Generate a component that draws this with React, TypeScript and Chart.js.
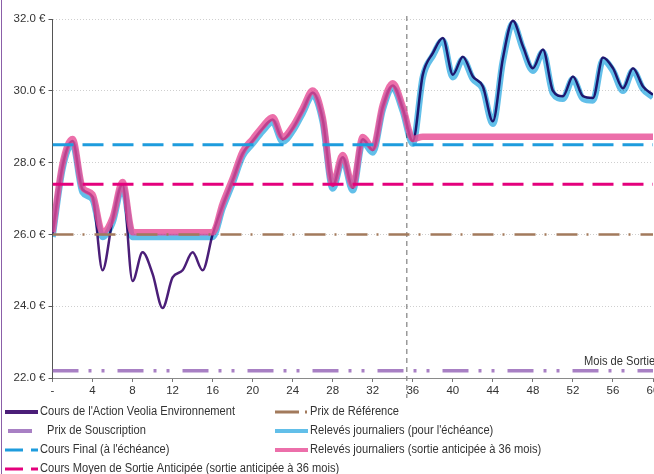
import { useEffect, useRef } from "react";
import { Chart, registerables } from "chart.js";

Chart.register(...registerables);

const months = [
  0, 1, 2, 3, 4, 5, 6, 7, 8, 9, 10, 11, 12, 13, 14, 15, 16, 17, 18, 19, 20,
  21, 22, 23, 24, 25, 26, 27, 28, 29, 30, 31, 32, 33, 34, 35, 36, 37, 38, 39, 40,
  41, 42, 43, 44, 45, 46, 47, 48, 49, 50, 51, 52, 53, 54, 55, 56, 57, 58, 59, 60,
];

const coursAction = [
  26.0, 27.9, 28.6, 27.25, 27.05, 25.0, 26.4, 27.4, 24.7, 25.5, 24.9,
  23.95, 24.8, 25.0, 25.5, 25.0, 26.0, 26.8, 27.5, 28.25, 28.6,
  28.95, 29.2, 28.65, 28.95, 29.45, 29.95, 29.2, 27.35, 28.15, 27.3,
  28.65, 28.35, 29.55, 30.15, 29.5, 28.6, 30.45, 31.05, 31.47, 30.45,
  30.95, 30.4, 30.12, 29.15, 30.9, 31.95, 31.24, 30.63, 31.15, 30.0,
  29.85, 30.4, 29.85, 29.8, 30.93, 30.63, 30.07, 30.63, 30.12, 29.89,
];

const relevesEcheance = [
  25.93, 27.83, 28.53, 27.18, 26.98, 25.93, 26.33, 27.33, 25.93, 25.93, 25.93,
  25.93, 25.93, 25.93, 25.93, 25.93, 25.93, 26.73, 27.43, 28.18, 28.53,
  28.88, 29.13, 28.58, 28.88, 29.38, 29.88, 29.13, 27.28, 28.08, 27.23,
  28.58, 28.28, 29.48, 30.08, 29.43, 28.53, 30.38, 30.98, 31.4, 30.38,
  30.88, 30.33, 30.05, 29.08, 30.83, 31.88, 31.17, 30.56, 31.08, 29.93,
  29.78, 30.33, 29.78, 29.73, 30.86, 30.56, 30.0, 30.56, 30.05, 29.82,
];

const relevesAnticipe = [
  26.06, 27.96, 28.66, 27.31, 27.11, 26.06, 26.46, 27.46, 26.06, 26.06, 26.06,
  26.06, 26.06, 26.06, 26.06, 26.06, 26.06, 26.86, 27.56, 28.31, 28.66,
  29.01, 29.26, 28.71, 29.01, 29.51, 30.01, 29.26, 27.41, 28.21, 27.36,
  28.71, 28.41, 29.61, 30.21, 29.56, 28.66, 28.72, 28.72, 28.72, 28.72,
  28.72, 28.72, 28.72, 28.72, 28.72, 28.72, 28.72, 28.72, 28.72, 28.72,
  28.72, 28.72, 28.72, 28.72, 28.72, 28.72, 28.72, 28.72, 28.72, 28.72,
];

const prixReference = 26.0;
const prixSouscription = 22.2;
const coursFinal = 28.5;
const coursMoyenAnticipe = 27.4;
const moisSortie = 35.4;

const yMin = 22;
const yMax = 32;
const yStep = 2;
const xMin = 0;
const xMax = 60;
const xStep = 4;

const legendLabels = [
  "Cours de l'Action Veolia Environnement",
  "Prix de Référence",
  "Prix de Souscription",
  "Relevés journaliers (pour l'échéance)",
  "Cours Final (à l'échéance)",
  "Relevés journaliers (sortie anticipée à 36 mois)",
  "Cours Moyen de Sortie Anticipée (sortie anticipée à 36 mois)",
];
const axisTitle = "Mois de Sortie";

const C_STOCK = "#4b1e78";
const C_BLUE = "#62bfe9";
const C_PINK = "rgba(231,75,149,0.8)";
const C_PINK_SOLID = "#ec6faa";
const C_REF = "#a27a5c";
const C_SOUS = "#a880c4";
const C_FINAL = "#1e9cdd";
const C_MOYEN = "#e4007c";

const FONT = "'Liberation Sans', Arial, sans-serif";
const TEXT_SQUEEZE = 0.89;

const series = (vals: number[]) => months.map((m, i) => ({ x: m, y: vals[i] }));
const hline = (v: number) => [
  { x: xMin, y: v },
  { x: xMax, y: v },
];

export default function App() {
  const ref = useRef<HTMLCanvasElement>(null);

  useEffect(() => {
    const canvas = ref.current!;

    const decor = {
      id: "decor",
      beforeDatasetDraw(chart: any, args: any) {
        if (args.index === 1) {
          chart.ctx.save();
          chart.ctx.globalCompositeOperation = "multiply";
        }
      },
      afterDatasetDraw(chart: any, args: any) {
        if (args.index === 1) chart.ctx.restore();
      },
      beforeDatasetsDraw(chart: any) {
        const { ctx, chartArea, scales } = chart;
        const x = scales.x.getPixelForValue(moisSortie);
        ctx.save();
        ctx.strokeStyle = "#8a8a8a";
        ctx.lineWidth = 1.3;
        ctx.setLineDash([5, 4]);
        ctx.beginPath();
        ctx.moveTo(x, chartArea.top - 3);
        ctx.lineTo(x, chartArea.bottom + 20);
        ctx.stroke();
        ctx.restore();
      },
      afterDraw(chart: any) {
        const { ctx, chartArea } = chart;
        const text = (s: string, x: number, y: number) => {
          ctx.save();
          ctx.translate(x, y);
          ctx.scale(TEXT_SQUEEZE, 1);
          ctx.fillText(s, 0, 0);
          ctx.restore();
        };
        ctx.save();
        ctx.fillStyle = "#333";
        ctx.font = "12.5px " + FONT;
        ctx.textBaseline = "middle";
        ctx.textAlign = "left";
        text(axisTitle, 584, chartArea.bottom - 16);

        ctx.font = "12.5px " + FONT;
        const rows = [412, 431, 450, 469];
        const colL = { s: 5, t: 40 };
        const colR = { s: 275, t: 310 };
        const line = (x1: number, x2: number, y: number, color: string, w: number, dash: number[] = []) => {
          ctx.save();
          ctx.strokeStyle = color;
          ctx.lineWidth = w;
          ctx.setLineDash(dash);
          ctx.beginPath();
          ctx.moveTo(x1, y);
          ctx.lineTo(x2, y);
          ctx.stroke();
          ctx.restore();
        };
        line(colL.s, colL.t - 2, rows[0], C_STOCK, 4);
        line(colL.s + 3, colL.s + 27, rows[1], C_SOUS, 4);
        line(colL.s, colL.t - 2, rows[2], C_FINAL, 3, [18, 8]);
        line(colL.s, colL.t - 2, rows[3], C_MOYEN, 3, [18, 8]);
        line(colR.s, colR.t - 2, rows[0], C_REF, 3, [24, 6, 2, 10]);
        line(colR.s, colR.t - 2, rows[1], C_BLUE, 4);
        line(colR.s, colR.t - 2, rows[2], C_PINK_SOLID, 4);

        ctx.fillStyle = "#333";
        text(legendLabels[0], colL.t, rows[0]);
        text(legendLabels[1], colR.t, rows[0]);
        text(legendLabels[2], colL.t + 7, rows[1]);
        text(legendLabels[3], colR.t, rows[1]);
        text(legendLabels[4], colL.t, rows[2]);
        text(legendLabels[5], colR.t, rows[2]);
        text(legendLabels[6], colL.t, rows[3]);
        ctx.restore();
      },
    };

    const chart = new Chart(canvas, {
      type: "line",
      data: {
        datasets: [
          { label: legendLabels[0], data: series(coursAction), borderColor: C_STOCK, borderWidth: 2.5, order: 6 },
          { label: legendLabels[3], data: series(relevesEcheance), borderColor: C_BLUE, borderWidth: 6.5, order: 5 },
          { label: legendLabels[5], data: series(relevesAnticipe), borderColor: C_PINK, borderWidth: 6.5, order: 4 },
          {
            label: legendLabels[1],
            data: hline(prixReference),
            borderColor: C_REF,
            borderWidth: 2.5,
            borderDash: [21, 9, 2, 10],
            order: 3,
          },
          {
            label: legendLabels[2],
            data: hline(prixSouscription),
            borderColor: C_SOUS,
            borderWidth: 3.5,
            borderDash: [26, 10, 3, 10, 3, 13],
            order: 2,
          },
          {
            label: legendLabels[4],
            data: hline(coursFinal),
            borderColor: C_FINAL,
            borderWidth: 3,
            borderDash: [21, 9],
            order: 1,
          },
          {
            label: legendLabels[6],
            data: hline(coursMoyenAnticipe),
            borderColor: C_MOYEN,
            borderWidth: 3,
            borderDash: [21, 9],
            order: 0,
          },
        ],
      },
      options: {
        animation: false,
        responsive: false,
        events: [],
        elements: {
          point: { radius: 0 },
          line: { cubicInterpolationMode: "monotone", borderCapStyle: "butt", fill: false },
        },
        layout: { padding: { top: 19, right: 37, bottom: 76, left: 0 } },
        plugins: { legend: { display: false }, tooltip: { enabled: false }, title: { display: false } },
        scales: {
          x: {
            type: "linear",
            min: xMin,
            max: xMax,
            afterFit: (s: any) => {
              s.height = 20;
            },
            ticks: {
              stepSize: xStep,
              padding: 2,
              color: "#333",
              font: { family: FONT, size: 11.5 },
              maxRotation: 0,
              autoSkip: false,
              callback: (v: any) => (v === 0 ? "-" : String(v)),
            },
            grid: { drawOnChartArea: false, drawTicks: true, tickLength: 4, tickColor: "#777" },
            border: { display: true, color: "#8a8a8a", width: 1 },
          },
          y: {
            type: "linear",
            min: yMin,
            max: yMax,
            afterFit: (s: any) => {
              s.width = 52.5;
            },
            ticks: {
              stepSize: yStep,
              padding: 3,
              color: "#333",
              font: { family: FONT, size: 11.5 },
              callback: (v: any) => Number(v).toFixed(1) + " €",
            },
            grid: { color: "#cfcfcf", lineWidth: 1, drawTicks: true, tickLength: 4, tickColor: "#555" },
            border: { display: true, color: "#555", width: 1, dash: [1, 2] },
          },
        },
      },
      plugins: [decor],
    } as any);

    return () => chart.destroy();
  }, []);

  return (
    <div style={{ position: "fixed", left: 0, top: 0, width: 654, height: 474, overflow: "hidden", background: "#fff" }}>
      <canvas ref={ref} width={690} height={474} style={{ width: 690, height: 474, display: "block" }} />
      <div style={{ position: "absolute", left: 1, top: 0, width: 1, height: 474, background: "#8b5fa8" }} />
    </div>
  );
}
